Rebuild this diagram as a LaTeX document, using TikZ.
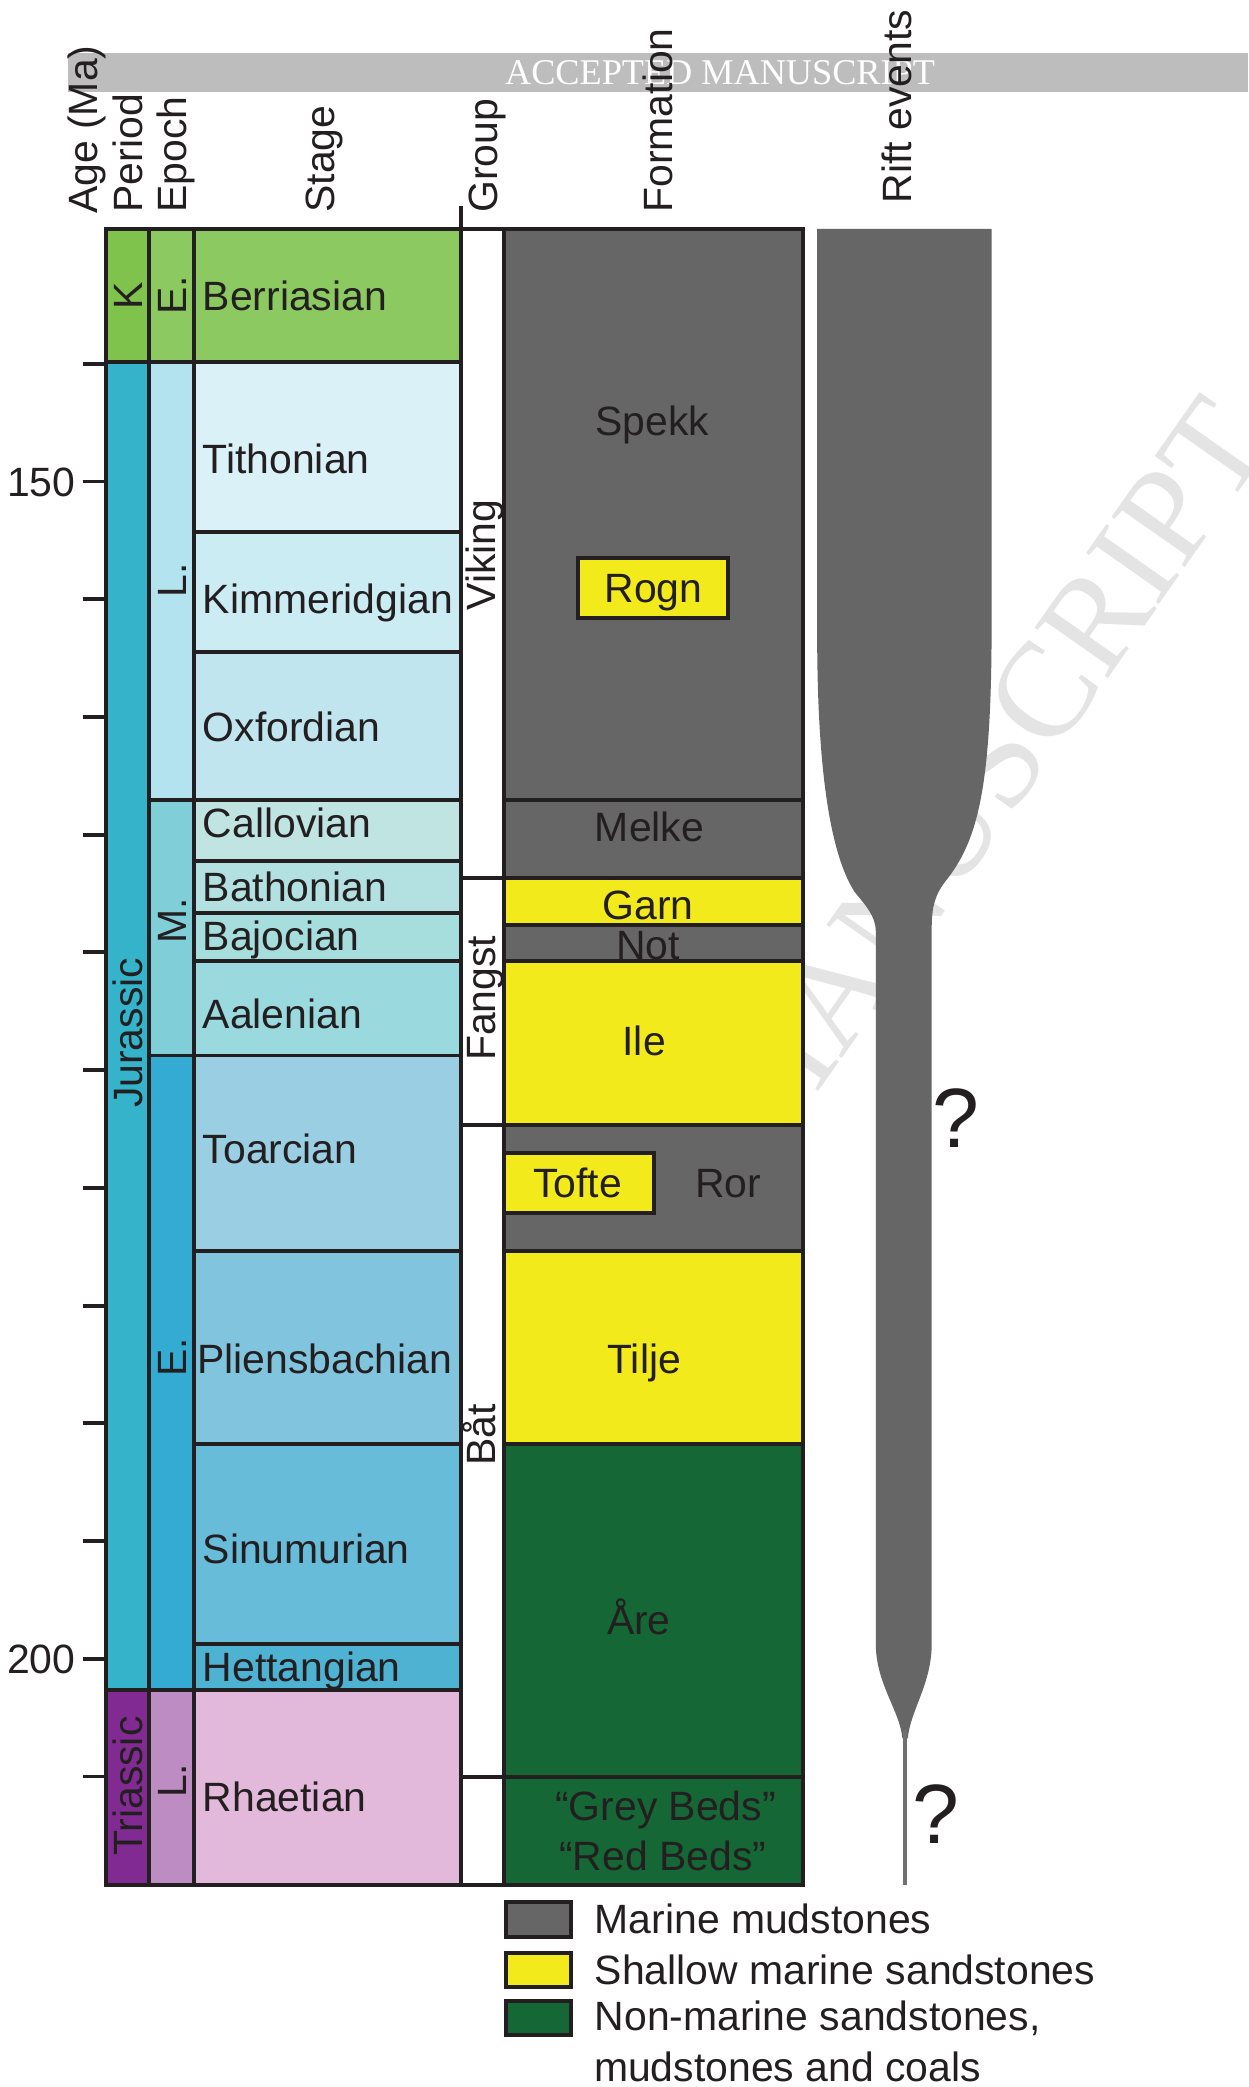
\documentclass[tikz,border=0pt]{standalone}
\usepackage{fontspec}
\setmainfont{Liberation Sans}
\newfontfamily\wmfont{Liberation Serif}
\usepackage{xcolor}
\usepackage{tikz}
\usetikzlibrary{positioning}

\definecolor{lc}{HTML}{231F20}
\definecolor{mud}{HTML}{666666}
\definecolor{sand}{HTML}{F2EA1A}
\definecolor{coal}{HTML}{156835}
\definecolor{band}{HTML}{BDBDBD}
\definecolor{wm}{HTML}{E4E4E4}
\definecolor{perK}{HTML}{7FC24C}
\definecolor{berr}{HTML}{8CC960}
\definecolor{perJ}{HTML}{35B3CA}
\definecolor{epLJ}{HTML}{B3E3EE}
\definecolor{tith}{HTML}{D9F1F7}
\definecolor{kimm}{HTML}{CCECF4}
\definecolor{oxf}{HTML}{C0E5EF}
\definecolor{epMJ}{HTML}{80CFD8}
\definecolor{call}{HTML}{BFE4E2}
\definecolor{bath}{HTML}{B3E1E1}
\definecolor{bajo}{HTML}{A6DDDD}
\definecolor{aale}{HTML}{9AD9DD}
\definecolor{epEJ}{HTML}{33ABD2}
\definecolor{toar}{HTML}{99CEE3}
\definecolor{plie}{HTML}{80C5DD}
\definecolor{sine}{HTML}{67BCD9}
\definecolor{hett}{HTML}{4EB3D3}
\definecolor{perT}{HTML}{812B92}
\definecolor{epLT}{HTML}{BD8CC3}
\definecolor{rhae}{HTML}{E3B9DB}
\definecolor{riftln}{HTML}{707070}

\begin{document}
\begin{tikzpicture}[
  x=0.02cm, y=-0.02cm,
  font=\fontsize{17.5}{21}\selectfont,
  cellbox/.style={draw=lc, line width=1.7pt},
  hdr/.style={rotate=90, anchor=base west, inner sep=0pt, text=lc},
  sname/.style={anchor=base west, inner sep=0pt, text=lc},
  fname/.style={anchor=base, inner sep=0pt, text=lc},
  vname/.style={rotate=90, anchor=base, inner sep=0pt, text=lc},
  qmark/.style={font=\fontsize{36}{40}\selectfont, inner sep=0pt, text=lc},
  legbox/.style={draw=lc, line width=1.7pt, minimum width=0.98cm, minimum height=0.52cm, inner sep=0pt},
  legtxt/.style={anchor=west, inner sep=0pt, text=lc},
  wmark/.style={rotate=55, inner sep=0pt, text=wm, font=\wmfont\fontsize{58}{60}\selectfont}
]
\fill[white] (0,0) rectangle (938,1568);
\useasboundingbox (0,0) rectangle (938,1568);

% watermark and banner
\node[wmark] (wmk) at (583,808) {ACCEPTED MANUSCRIPT};
\fill[band] (51,40) rectangle (938,69);
\node[anchor=base, inner sep=0pt, text=white, font=\wmfont\fontsize{15.5}{18}\selectfont] (bnr) at (541,63.5) {ACCEPTED MANUSCRIPT};

% column headers
\node[hdr] (hAge) at (73,161) {Age (Ma)};
\node[hdr] (hPer) at (107,160) {Period};
\node[hdr] (hEpo) at (140,160) {Epoch};
\node[hdr] (hSta) at (251,160) {Stage};
\node[hdr] (hGrp) at (374,160) {Group};
\node[hdr] (hFrm) at (505,160) {Formation};
\node[hdr] (hRft) at (685,153) {Rift events};
\draw[cellbox] (346,155) -- (346,172);

% age axis
\foreach \i in {0,...,12}
  \draw[cellbox] (62,{273.3+88.45*\i}) -- (80,{273.3+88.45*\i});
\node[anchor=base east, inner sep=0pt, text=lc] (a150) at (57,373) {150};
\node[anchor=base east, inner sep=0pt, text=lc] (a200) at (57,1257) {200};

% period, epoch, stage
\foreach \ya/\yb/\col in {172/272/perK,272/1270/perJ,1270/1416/perT}
  \filldraw[cellbox, fill=\col] (80,\ya) rectangle (112,\yb);
\foreach \ya/\yb/\col in {172/272/berr,272/601/epLJ,601/793/epMJ,793/1270/epEJ,1270/1416/epLT}
  \filldraw[cellbox, fill=\col] (112,\ya) rectangle (146,\yb);
\foreach \ya/\yb/\col in {172/272/berr,272/400/tith,400/490/kimm,490/601/oxf,601/647/call,647/686/bath,686/722/bajo,722/793/aale,793/940/toar,940/1085/plie,1085/1235/sine,1235/1270/hett,1270/1416/rhae}
  \filldraw[cellbox, fill=\col] (146,\ya) rectangle (346,\yb);

\node[vname] (pK) at (107,222) {K};
\node[vname] (pJ) at (107,776) {Jurassic};
\node[vname] (pT) at (107,1342) {Triassic};
\node[vname] (eEK) at (140,222) {E.};
\node[vname] (eLJ) at (140,436) {L.};
\node[vname] (eMJ) at (140,692) {M.};
\node[vname] (eEJ) at (140,1020) {E.};
\node[vname] (eLT) at (140,1338) {L.};

\node[sname] (sBer) at (152,233) {Berriasian};
\node[sname] (sTit) at (152,356) {Tithonian};
\node[sname] (sKim) at (152,461) {Kimmeridgian};
\node[sname] (sOxf) at (152,557) {Oxfordian};
\node[sname] (sCal) at (152,629) {Callovian};
\node[sname] (sBat) at (152,677) {Bathonian};
\node[sname] (sBaj) at (152,714) {Bajocian};
\node[sname] (sAal) at (152,773) {Aalenian};
\node[sname] (sToa) at (152,874) {Toarcian};
\node[sname] (sPli) at (148,1032) {Pliensbachian};
\node[sname] (sSin) at (152,1175) {Sinumurian};
\node[sname] (sHet) at (152,1263) {Hettangian};
\node[sname] (sRha) at (152,1361) {Rhaetian};

% group
\filldraw[cellbox, fill=white] (346,172) rectangle (379,1416);
\foreach \yb in {660,845,1335}
  \draw[cellbox] (346,\yb) -- (379,\yb);
\node[vname] (gVik) at (372,417) {Viking};
\node[vname] (gFan) at (372,750) {Fangst};
\node[vname] (gBat) at (372,1078) {Båt};

% formations
\foreach \ya/\yb/\col in {172/601/mud,601/660/mud,660/695/sand,695/722/mud,722/845/sand,845/940/mud,940/1085/sand,1085/1335/coal,1335/1416/coal}
  \filldraw[cellbox, fill=\col] (379,\ya) rectangle (603,\yb);
\filldraw[cellbox, fill=sand] (434,419) rectangle (547,464);
\filldraw[cellbox, fill=sand] (379,866) rectangle (491,911);

\node[fname] (fSpe) at (490,327) {Spekk};
\node[fname] (fRog) at (491,453) {Rogn};
\node[fname] (fMel) at (488,632) {Melke};
\node[fname] (fGar) at (487,691) {Garn};
\node[fname] (fNot) at (487,721) {Not};
\node[fname] (fIle) at (484,793) {Ile};
\node[fname] (fTof) at (434,900) {Tofte};
\node[fname] (fRor) at (547,900) {Ror};
\node[fname] (fTil) at (484,1032) {Tilje};
\node[fname] (fAre) at (480,1228) {Åre};
\node[fname] (fGre) at (500,1368) {“Grey Beds”};
\node[fname] (fRed) at (498,1405) {“Red Beds”};

% rift events
\fill[mud] (614,172) -- (745,172) -- (745,470)
  .. controls (745,590) and (735,630) .. (712,660)
  .. controls (702,672) and (700,682) .. (700,698)
  -- (700,1235)
  .. controls (700,1265) and (684,1285) .. (682,1306)
  -- (678,1306)
  .. controls (676,1285) and (658,1265) .. (658,1235)
  -- (658,700)
  .. controls (658,688) and (650,680) .. (642,670)
  .. controls (628,648) and (615,600) .. (614,490) -- cycle;
\draw[riftln, line width=0.06cm] (680,1300) -- (680,1416);
\node[qmark] (q1) at (718,840) {?};
\node[qmark] (q2) at (703,1363) {?};

% legend
\node[legbox, fill=mud] (lg1) at (404.5,1442) {};
\node[legbox, fill=sand] (lg2) at (404.5,1480) {};
\node[legbox, fill=coal] (lg3) at (404.5,1516) {};
\node[legtxt, right=0.32cm of lg1] (lt1) {Marine mudstones};
\node[legtxt, right=0.32cm of lg2] (lt2) {Shallow marine sandstones};
\node[legtxt, right=0.32cm of lg3] (lt3) {Non-marine sandstones,};
\node[legtxt] (lt4) at (446,1553) {mudstones and coals};
\end{tikzpicture}
\end{document}
